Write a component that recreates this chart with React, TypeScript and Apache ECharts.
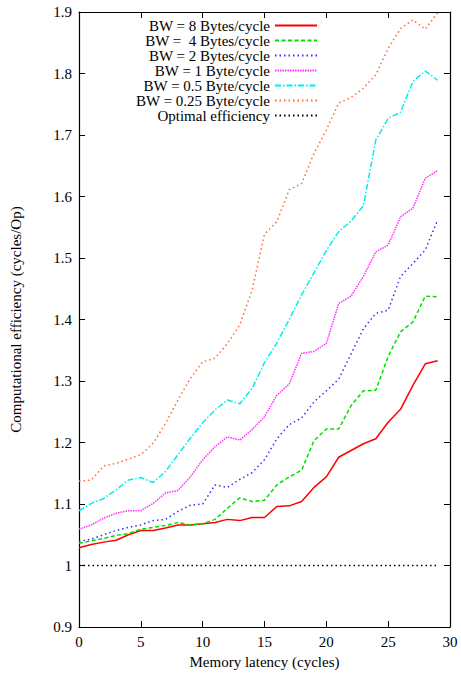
import React, { useEffect, useRef } from "react";
import * as echarts from "echarts";

const latency = Array.from({ length: 30 }, (_, i) => i);
const seriesNames = [
  "BW = 8 Bytes/cycle",
  "BW =  4 Bytes/cycle",
  "BW = 2 Bytes/cycle",
  "BW = 1 Byte/cycle",
  "BW = 0.5 Byte/cycle",
  "BW = 0.25 Byte/cycle",
  "Optimal efficiency",
];
const bw8 = [1.029, 1.034, 1.038, 1.041, 1.050, 1.057, 1.057, 1.061, 1.066, 1.066, 1.068, 1.070, 1.075, 1.073, 1.078, 1.078, 1.096, 1.097, 1.104, 1.127, 1.144, 1.176, 1.187, 1.198, 1.206, 1.233, 1.254, 1.293, 1.328, 1.333];
const bw4 = [1.036, 1.040, 1.044, 1.049, 1.052, 1.059, 1.062, 1.065, 1.070, 1.066, 1.068, 1.075, 1.093, 1.110, 1.104, 1.106, 1.131, 1.144, 1.155, 1.203, 1.222, 1.222, 1.260, 1.284, 1.285, 1.340, 1.380, 1.396, 1.438, 1.437];
const bw2 = [1.039, 1.043, 1.050, 1.057, 1.062, 1.066, 1.073, 1.075, 1.088, 1.098, 1.100, 1.131, 1.127, 1.140, 1.151, 1.172, 1.206, 1.229, 1.240, 1.266, 1.284, 1.303, 1.344, 1.385, 1.410, 1.415, 1.470, 1.491, 1.513, 1.562];
const bw1 = [1.059, 1.066, 1.077, 1.085, 1.089, 1.089, 1.101, 1.118, 1.122, 1.144, 1.172, 1.193, 1.209, 1.204, 1.221, 1.242, 1.277, 1.295, 1.345, 1.348, 1.361, 1.426, 1.438, 1.470, 1.510, 1.521, 1.567, 1.581, 1.630, 1.642];
const bw05 = [1.089, 1.101, 1.109, 1.123, 1.139, 1.143, 1.135, 1.153, 1.180, 1.207, 1.232, 1.253, 1.269, 1.263, 1.288, 1.330, 1.362, 1.400, 1.440, 1.476, 1.512, 1.543, 1.560, 1.585, 1.692, 1.727, 1.737, 1.787, 1.804, 1.789];
const bw025 = [1.137, 1.139, 1.162, 1.166, 1.173, 1.180, 1.199, 1.231, 1.269, 1.304, 1.331, 1.337, 1.361, 1.391, 1.448, 1.539, 1.559, 1.611, 1.621, 1.670, 1.708, 1.752, 1.761, 1.776, 1.798, 1.841, 1.873, 1.887, 1.872, 1.899];
const optimal = latency.map(() => 1);

const FONT = "'Liberation Serif', 'DejaVu Serif', serif";

export default function App() {
  const ref = useRef<HTMLDivElement>(null);
  useEffect(() => {
    document.body.style.margin = "0";
    const chart = echarts.init(ref.current!, null, { renderer: "svg" });
    const allData = [bw8, bw4, bw2, bw1, bw05, bw025, optimal];
    const colors = ["#ff0000", "#00e000", "#3030ff", "#ff30ff", "#00eeee", "#ff6a30", "#000000"];
    const types: any[] = [
      "solid",
      [4, 2.5],
      [1.5, 3],
      [1.5, 1],
      [6, 2, 1.5, 2],
      [1.5, 3],
      [1.5, 3],
    ];
    const series = allData.map((d, i) => ({
      name: seriesNames[i],
      type: "line",
      data: latency.map((x, j) => [x, d[j]]),
      symbol: "none",
      xAxisIndex: 0,
      yAxisIndex: 0,
      lineStyle: { color: colors[i], width: 1.5, type: types[i] },
      itemStyle: { color: colors[i] },
    }));
    const tickCommon = { show: true, inside: true, length: 6, lineStyle: { color: "#000", width: 1 } };
    const lineCommon = { show: true, onZero: false, lineStyle: { color: "#000", width: 1.2 } };
    chart.setOption({
      animation: false,
      backgroundColor: "#fff",
      textStyle: { fontFamily: FONT },
      grid: { left: 76, right: 11, top: 12, bottom: 48 },
      legend: {
        orient: "vertical",
        align: "right",
        right: 143,
        top: 18,
        padding: 0,
        itemGap: 0,
        itemWidth: 42,
        itemHeight: 12,
        itemStyle: { opacity: 0 },
        data: seriesNames,
        textStyle: { fontFamily: FONT, fontSize: 15, color: "#000", lineHeight: 15 },
      },
      xAxis: [
        {
          type: "value",
          min: 0,
          max: 30,
          interval: 5,
          name: "Memory latency (cycles)",
          nameLocation: "middle",
          nameGap: 27,
          nameTextStyle: { fontFamily: FONT, fontSize: 15, color: "#000" },
          axisLine: lineCommon,
          axisTick: tickCommon,
          splitLine: { show: false },
          axisLabel: { fontFamily: FONT, fontSize: 15, color: "#000", margin: 7 },
        },
        {
          type: "value",
          position: "top",
          min: 0,
          max: 30,
          interval: 5,
          axisLine: lineCommon,
          axisTick: tickCommon,
          splitLine: { show: false },
          axisLabel: { show: false },
        },
      ],
      yAxis: [
        {
          type: "value",
          min: 0.9,
          max: 1.9,
          interval: 0.1,
          name: "Computational efficiency (cycles/Op)",
          nameLocation: "middle",
          nameGap: 56,
          nameRotate: 90,
          nameTextStyle: { fontFamily: FONT, fontSize: 15, color: "#000" },
          axisLine: lineCommon,
          axisTick: tickCommon,
          splitLine: { show: false },
          axisLabel: {
            fontFamily: FONT,
            fontSize: 15,
            color: "#000",
            margin: 7,
            formatter: (v: number) => String(+v.toFixed(1)),
          },
        },
        {
          type: "value",
          position: "right",
          min: 0.9,
          max: 1.9,
          interval: 0.1,
          axisLine: lineCommon,
          axisTick: tickCommon,
          splitLine: { show: false },
          axisLabel: { show: false },
        },
      ],
      series,
    });
    return () => chart.dispose();
  }, []);
  return <div ref={ref} style={{ width: 461, height: 675 }} />;
}
